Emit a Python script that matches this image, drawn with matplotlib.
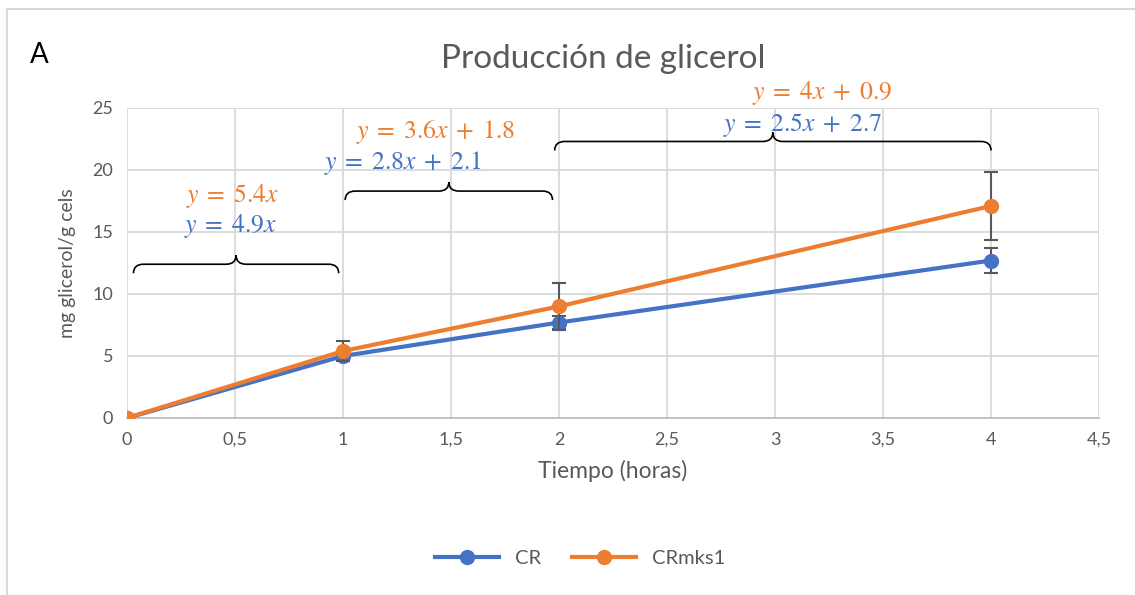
import matplotlib.pyplot as plt
import numpy as np
from matplotlib.path import Path
from matplotlib.patches import PathPatch
from matplotlib.transforms import IdentityTransform
from matplotlib.ticker import FuncFormatter

plt.rcParams['font.family'] = ['Lato', 'DejaVu Sans']
plt.rcParams['mathtext.fontset'] = 'stix'

# data
tiempo = [0, 1, 2, 4]
cr = [0, 5.0, 7.7, 12.7]
cr_err = [0, 0.3, 0.5, 1.0]
crmks1 = [0, 5.4, 9.0, 17.1]
crmks1_err = [0, 0.8, 1.9, 2.75]

# braces: (x start, x end, y of line)
braces = [(0.03, 0.98, 12.4), (1.01, 1.97, 18.3), (1.98, 4.0, 22.3)]
# equations: (x, y, text, series)
eqs = [(0.49, 17.9, r'$y\;=\;5.4x$', 'o'),
       (0.48, 15.5, r'$y\;=\;4.9x$', 'b'),
       (1.43, 23.1, r'$y\;=\;3.6x\;+\;1.8$', 'o'),
       (1.28, 20.6, r'$y\;=\;2.8x\;+\;2.1$', 'b'),
       (3.22, 26.2, r'$y\;=\;4x\;+\;0.9$', 'o'),
       (3.13, 23.6, r'$y\;=\;2.5x\;+\;2.7$', 'b')]

blue = '#4472C4'
orange = '#ED7D31'
gray = '#595959'

fig = plt.figure(figsize=(11.35, 5.95), dpi=100)
ax = fig.add_axes([127/1135, 1-418/595, (1099-127)/1135, (418-108)/595])

c1 = ax.errorbar(tiempo, cr, yerr=cr_err, color=blue, lw=3, marker='o', ms=10,
                 ecolor=gray, elinewidth=1.5, capsize=5, capthick=1.5, label='CR', zorder=3)
c2 = ax.errorbar(tiempo, crmks1, yerr=crmks1_err, color=orange, lw=3, marker='o', ms=10,
                 ecolor=gray, elinewidth=1.5, capsize=5, capthick=1.5, label='CRmks1', zorder=4)

ax.set_xlim(0, 4.5)
ax.set_ylim(0, 25)
ax.set_xticks(np.arange(0, 4.51, 0.5))
ax.set_yticks(np.arange(0, 26, 5))
ax.xaxis.set_major_formatter(FuncFormatter(lambda v, p: ('%g' % v).replace('.', ',')))
ax.grid(True, color='#d9d9d9', lw=1.3)
ax.set_axisbelow(True)
for s in ['top', 'right', 'left']:
    ax.spines[s].set_visible(False)
ax.spines['bottom'].set_color('#bfbfbf')
ax.spines['bottom'].set_linewidth(1.3)
ax.tick_params(length=0, labelsize=13, labelcolor=gray, pad=10)
ax.set_xlabel('Tiempo (horas)', fontsize=16.5, color=gray, labelpad=9)
ax.set_ylabel('mg glicerol/g cels', fontsize=14, color=gray, labelpad=12)
fig.text(603/1135, 1-59/595, 'Producción de glicerol', fontsize=24, color=gray,
         ha='center', va='center')

fig.text(30/1135, 1-55/595, 'A', fontsize=20, color='black', va='center')

# curly braces drawn in pixel space
def brace(x0, x1, yb, h=9, r=10):
    (px0, py), = ax.transData.transform([(x0, yb)])
    (px1, _), = ax.transData.transform([(x1, yb)])
    pm = (px0 + px1) / 2
    verts = [(px0, py - h), (px0, py), (px0 + r, py),
             (pm - r, py), (pm, py), (pm, py + h),
             (pm, py), (pm + r, py),
             (px1 - r, py), (px1, py), (px1, py - h)]
    codes = [Path.MOVETO, Path.CURVE3, Path.CURVE3,
             Path.LINETO, Path.CURVE3, Path.CURVE3,
             Path.CURVE3, Path.CURVE3,
             Path.LINETO, Path.CURVE3, Path.CURVE3]
    p = PathPatch(Path(verts, codes), fill=False, lw=1.2, ec='black',
                  transform=IdentityTransform(), clip_on=False, zorder=5)
    fig.add_artist(p)

for b in braces:
    brace(*b)

for x, y, t, s in eqs:
    ax.text(x, y, t, fontsize=18.5, color=orange if s == 'o' else blue,
            ha='center', va='center', clip_on=False, zorder=6)

leg = fig.legend([c1.lines[0], c2.lines[0]], ['CR', 'CRmks1'], loc='center',
                 bbox_to_anchor=(580/1135, 1-558/595), ncol=2,
                 frameon=False, fontsize=14.5, handlelength=3.2, columnspacing=1.5)
for t in leg.get_texts():
    t.set_color(gray)

# chart area border (left and top visible)
fig.add_artist(plt.Line2D([7/1135, 7/1135], [0, 1-9/595], color='#d9d9d9', lw=1.5))
fig.add_artist(plt.Line2D([7/1135, 1], [1-9/595, 1-9/595], color='#d9d9d9', lw=1.5))

fig.savefig('out.png', dpi=100)
